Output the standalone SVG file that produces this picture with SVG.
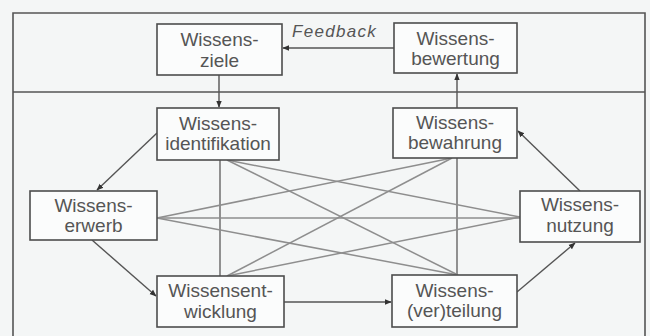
<svg xmlns="http://www.w3.org/2000/svg" width="650" height="336" viewBox="0 0 650 336">
<defs>
<style>
.box{fill:#fbfcfc;stroke:#4d4d4d;stroke-width:1.6}
.t{font-family:"Liberation Sans",Arial,sans-serif;font-size:19px;fill:#555;text-anchor:middle}
.fb{font-family:"Liberation Sans",Arial,sans-serif;font-size:17px;font-style:italic;fill:#555;letter-spacing:1.3px}
.frame{fill:none;stroke:#555;stroke-width:1.6}
.arr{fill:none;stroke:#555;stroke-width:1.4;marker-end:url(#ah)}
.ln{fill:none;stroke:#8e8e8e;stroke-width:1.5}
.vl{fill:none;stroke:#666;stroke-width:1.4}
</style>
<marker id="ah" viewBox="0 0 10 10" refX="9" refY="5" markerWidth="7" markerHeight="7" orient="auto" markerUnits="userSpaceOnUse">
<path d="M0,1 L10,5 L0,9 Z" fill="#333"/>
</marker>
</defs>
<rect x="0" y="0" width="650" height="336" fill="#f4f6f6"/>
<path class="frame" d="M13,340 V13 H645 V340"/>
<line class="frame" x1="13" y1="92" x2="645" y2="92"/>
<g id="connectors">
<line class="arr" x1="219" y1="75" x2="219" y2="107"/>
<line class="arr" x1="457" y1="108" x2="457" y2="74"/>
<line class="arr" x1="395" y1="48" x2="283" y2="48"/>
<line class="arr" x1="157" y1="133" x2="97" y2="190"/>
<line class="arr" x1="92" y1="240" x2="156" y2="296"/>
<line class="arr" x1="284" y1="302" x2="391" y2="302"/>
<line class="arr" x1="517" y1="292" x2="575" y2="243"/>
<line class="arr" x1="580" y1="191" x2="518" y2="131"/>
<line class="vl" x1="220" y1="160" x2="220" y2="276"/>
<line class="vl" x1="457" y1="158" x2="457" y2="275"/>
<line class="ln" x1="227" y1="160" x2="520" y2="217"/>
<line class="ln" x1="227" y1="160" x2="458" y2="275"/>
<line class="ln" x1="157" y1="218" x2="452" y2="158"/>
<line class="ln" x1="157" y1="218" x2="520" y2="218"/>
<line class="ln" x1="157" y1="218" x2="458" y2="275"/>
<line class="ln" x1="227" y1="276" x2="452" y2="158"/>
<line class="ln" x1="227" y1="276" x2="520" y2="217"/>
<text class="fb" x="292" y="37">Feedback</text>
</g>
<g id="ziele">
<rect class="box" x="157" y="24" width="125" height="51"/>
<text class="t" x="219.5" y="46">Wissens-</text>
<text class="t" x="219.5" y="67">ziele</text>
</g>
<g id="bewertung">
<rect class="box" x="394" y="23" width="123" height="50"/>
<text class="t" x="455.5" y="45">Wissens-</text>
<text class="t" x="455.5" y="65">bewertung</text>
</g>
<g id="identifikation">
<rect class="box" x="157" y="108" width="122" height="52"/>
<text class="t" x="218" y="130">Wissens-</text>
<text class="t" x="218" y="150">identifikation</text>
</g>
<g id="bewahrung">
<rect class="box" x="393" y="108" width="124" height="50"/>
<text class="t" x="455" y="129">Wissens-</text>
<text class="t" x="455" y="149">bewahrung</text>
</g>
<g id="erwerb">
<rect class="box" x="30" y="191" width="127" height="49"/>
<text class="t" x="93.5" y="212">Wissens-</text>
<text class="t" x="93.5" y="232">erwerb</text>
</g>
<g id="nutzung">
<rect class="box" x="520" y="191" width="120" height="51"/>
<text class="t" x="580" y="211">Wissens-</text>
<text class="t" x="580" y="232">nutzung</text>
</g>
<g id="entwicklung">
<rect class="box" x="157" y="276" width="127" height="51"/>
<text class="t" x="220.5" y="297">Wissensent-</text>
<text class="t" x="220.5" y="318">wicklung</text>
</g>
<g id="verteilung">
<rect class="box" x="392" y="275" width="125" height="52"/>
<text class="t" x="454.5" y="297">Wissens-</text>
<text class="t" x="454.5" y="317">(ver)teilung</text>
</g>
</svg>
